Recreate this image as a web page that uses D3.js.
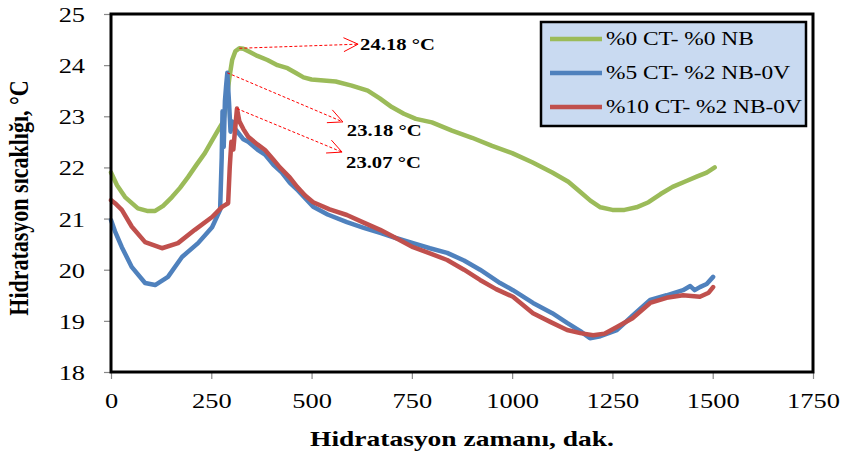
<!DOCTYPE html>
<html><head><meta charset="utf-8">
<script src="https://cdn.jsdelivr.net/npm/d3@7"></script>
<style>body{margin:0;background:#fff}svg{display:block}</style>
</head><body>
<svg id="c" width="846" height="458"></svg>
<script>
// ---- data ----
const seriesNames = ["%0 CT- %0 NB", "%5 CT- %2 NB-0V", "%10 CT- %2 NB-0V"];
const seriesColors = ["#9bbb59", "#4f81bd", "#c0504d"];

const greenX = [0,15,35,67,90,110,130,152,172,192,213,234,250,267,280,288,295,302,310,320,330,345,365,390,415,440,460,480,500,530,560,600,640,670,700,730,760,800,850,900,950,1000,1050,1100,1140,1170,1195,1220,1250,1280,1310,1340,1370,1400,1430,1460,1485,1505];
const greenY = [21.9,21.65,21.42,21.2,21.15,21.15,21.25,21.42,21.6,21.81,22.05,22.28,22.5,22.73,22.9,23.3,23.75,24.1,24.27,24.33,24.32,24.26,24.18,24.1,24.0,23.94,23.85,23.76,23.72,23.7,23.68,23.6,23.5,23.35,23.18,23.05,22.95,22.88,22.72,22.58,22.42,22.28,22.1,21.9,21.72,21.52,21.35,21.22,21.17,21.17,21.22,21.32,21.48,21.62,21.72,21.82,21.9,22.0];

const blueX = [0,10,27,52,85,110,142,177,217,252,272,276,278,281,284,287,290,294,298,302,310,330,342,365,384,405,426,446,466,484,504,540,588,630,671,710,753,795,838,880,920,970,1002,1052,1100,1137,1170,1194,1220,1261,1300,1344,1385,1426,1444,1455,1468,1485,1501];
const blueY = [20.97,20.75,20.44,20.05,19.74,19.7,19.86,20.25,20.52,20.83,21.17,22.2,23.1,22.4,23.3,23.6,23.85,23.3,22.7,22.9,22.75,22.55,22.5,22.35,22.25,22.05,21.9,21.7,21.55,21.4,21.23,21.08,20.93,20.82,20.72,20.62,20.52,20.42,20.33,20.18,20.0,19.74,19.6,19.35,19.15,18.96,18.8,18.66,18.7,18.82,19.1,19.41,19.5,19.6,19.68,19.6,19.66,19.72,19.86];

const redX = [0,10,27,52,85,127,167,209,252,277,292,296,300,305,310,314,320,330,342,365,384,405,421,446,464,484,504,545,588,630,671,710,753,795,838,880,920,960,1002,1052,1095,1137,1170,1202,1230,1261,1300,1344,1385,1426,1468,1490,1501];
const redY = [21.36,21.3,21.17,20.84,20.54,20.42,20.52,20.78,21.03,21.23,21.3,22.0,22.5,22.35,22.8,23.15,22.9,22.75,22.6,22.45,22.34,22.15,22.0,21.8,21.62,21.45,21.32,21.18,21.07,20.92,20.78,20.62,20.44,20.32,20.19,20.0,19.8,19.62,19.47,19.15,18.98,18.82,18.76,18.72,18.75,18.88,19.05,19.35,19.45,19.5,19.47,19.55,19.66];

const xTicks = [0,250,500,750,1000,1250,1500,1750];
const yTicks = [18,19,20,21,22,23,24,25];
const xTitle = "Hidratasyon zamanı, dak.";
const yTitle = "Hidratasyon sıcaklığı, °C";

// peak annotations: label text, label position (data units), arrow tip (data units)
const annLabels = ["24.18 °C", "23.18 °C", "23.07 °C"];
const annTipX = [616, 578, 576];
const annTipY = [24.41, 22.89, 22.30];
const annTextX = [621, 588, 586];
const annTextY = [24.30, 22.62, 21.99];

// ---- layout ----
const svg = d3.select("#c");
const SX = 1.2; // horizontal text stretch of original
const FONT = "'Liberation Serif','Times New Roman',serif";
const x = d3.scaleLinear().domain([0,1750]).range([111,813]);
const y = d3.scaleLinear().domain([18,25]).range([372,14]);

function sText(g, px, py, str, o) {
  const t = g.append("g").attr("transform", `translate(${px},${py}) scale(${o.sx||SX},1)`)
    .append("text").text(str)
    .attr("font-family", FONT).attr("font-size", o.size)
    .attr("font-weight", o.bold ? "bold" : "normal")
    .attr("text-anchor", o.anchor || "start").attr("fill", "#000");
  if (o.dy) t.attr("dy", o.dy);
  return t;
}

// plot background
svg.append("rect").attr("x", x(0)).attr("y", y(25)).attr("width", x(1750)-x(0)).attr("height", y(18)-y(25)).attr("fill", "#fff");

// axes
const xAxis = svg.append("g").attr("transform", `translate(0,${y(18)})`)
  .call(d3.axisBottom(x).tickValues(xTicks).tickSize(7).tickPadding(10).tickFormat(d3.format("d")));
const yAxis = svg.append("g").attr("transform", `translate(${x(0)},0)`)
  .call(d3.axisLeft(y).tickValues(yTicks).tickSize(7).tickFormat(d3.format("d")));
[xAxis, yAxis].forEach(a => {
  a.select(".domain").remove();
  a.selectAll(".tick line").attr("stroke", "#888").attr("stroke-width", 1.2);
  a.selectAll("text").attr("font-family", FONT).attr("font-size", 22).attr("fill", "#000");
});
xAxis.selectAll("text").attr("y", 20).attr("dy", "0.71em").attr("transform", `scale(${SX},1)`);
yAxis.selectAll("text").attr("x", -26/SX).attr("dy", "0.34em").attr("transform", `scale(${SX},1)`);

// series
const series = [[greenX, greenY], [blueX, blueY], [redX, redY]];
const line = d3.line().x(d => x(d[0])).y(d => y(d[1]));
series.forEach((s, i) => {
  const pts = s[0].map((v, k) => [v, s[1][k]]);
  svg.append("path").datum(pts).attr("d", line).attr("fill", "none")
    .attr("stroke", seriesColors[i]).attr("stroke-width", 4.5)
    .attr("stroke-linejoin", "round").attr("stroke-linecap", "round");
});

// frame
svg.append("rect").attr("x", x(0)).attr("y", y(25)).attr("width", x(1750)-x(0)).attr("height", y(18)-y(25))
  .attr("fill", "none").attr("stroke", "#000").attr("stroke-width", 3);

// annotations
series.forEach((s, i) => {
  const k = d3.maxIndex(s[1]);
  const x0 = x(s[0][k]), y0 = y(s[1][k]);
  const x1 = x(annTipX[i]), y1 = y(annTipY[i]);
  svg.append("line").attr("x1", x0).attr("y1", y0).attr("x2", x1).attr("y2", y1)
    .attr("stroke", "#ff0000").attr("stroke-width", 1).attr("stroke-dasharray", "3,2");
  const ang = Math.atan2(y1 - y0, x1 - x0), L = 16, A = 0.45;
  [ -A, A ].forEach(da => {
    svg.append("line").attr("x1", x1).attr("y1", y1)
      .attr("x2", x1 - L*Math.cos(ang+da)).attr("y2", y1 - L*Math.sin(ang+da))
      .attr("stroke", "#ff0000").attr("stroke-width", 1);
  });
  sText(svg, x(annTextX[i]), y(annTextY[i]), annLabels[i], {size: 17.5, bold: true, sx: 1.18});
});

// legend
const lg = svg.append("g");
lg.append("rect").attr("x", 541).attr("y", 22).attr("width", 265).attr("height", 104)
  .attr("fill", "#c9daf1").attr("stroke", "#000").attr("stroke-width", 2.5);
seriesNames.forEach((n, i) => {
  const yy = 39 + i*34;
  lg.append("line").attr("x1", 550).attr("x2", 602).attr("y1", yy).attr("y2", yy)
    .attr("stroke", seriesColors[i]).attr("stroke-width", 4.5);
  sText(lg, 606, yy, n, {size: 19.5, dy: "0.33em"});
});

// axis titles
sText(svg, 462, 446, xTitle, {size: 22, bold: true, anchor: "middle", sx: 1.25});
svg.append("g").attr("transform", "translate(28,198) rotate(-90) scale(1,1.2)")
  .append("text").text(yTitle).attr("font-family", FONT).attr("font-size", 22)
  .attr("font-weight", "bold").attr("text-anchor", "middle");
</script>
</body></html>
